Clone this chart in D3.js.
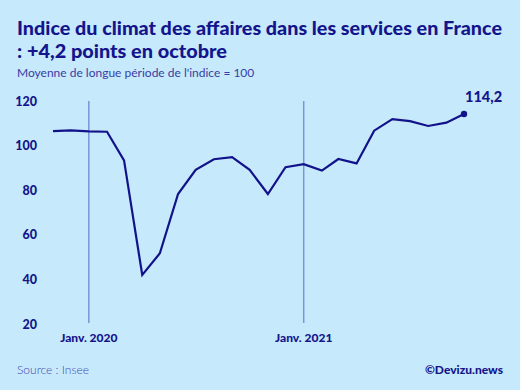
<!DOCTYPE html>
<html>
<head>
<meta charset="utf-8">
<script src="https://cdn.jsdelivr.net/npm/d3@7"></script>
<style>
  body { margin: 0; background: #c6eafb; }
  svg { display: block; font-family: Lato, "Noto Sans", sans-serif; }
</style>
</head>
<body>
<div id="chart"></div>
<script>
// data: Nov 2019 -> Oct 2021
const months = ["2019-11","2019-12","2020-01","2020-02","2020-03","2020-04","2020-05","2020-06",
  "2020-07","2020-08","2020-09","2020-10","2020-11","2020-12","2021-01","2021-02","2021-03",
  "2021-04","2021-05","2021-06","2021-07","2021-08","2021-09","2021-10"];
const values = [106.5, 106.8, 106.4, 106.2, 93.4, 42.0, 51.7, 78.3, 89.1, 93.9, 94.8, 89.1,
  78.3, 90.3, 91.7, 88.8, 94.0, 92.0, 106.7, 111.9, 111.0, 108.8, 110.3, 114.2];
const yTicks = [20, 40, 60, 80, 100, 120];
const xMarks = ["2020-01", "2021-01"];
const xMarkLabels = ["Janv. 2020", "Janv. 2021"];
const lastLabel = "114,2";

const W = 520, H = 390;
const parse = d3.timeParse("%Y-%m");
const data = months.map((m, i) => ({ date: parse(m), value: values[i] }));

const svg = d3.select("#chart").append("svg")
  .attr("width", W).attr("height", H);

svg.append("rect").attr("width", W).attr("height", H).attr("fill", "#c6eafb");

// title
const title = svg.append("text")
  .attr("fill", "#14148c")
  .style("font-weight", 900)
  .style("font-size", "19.5px");
title.append("tspan").attr("x", 17).attr("y", 35)
  .attr("textLength", 485).attr("lengthAdjust", "spacingAndGlyphs")
  .text("Indice du climat des affaires dans les services en France");
title.append("tspan").attr("x", 17).attr("y", 58)
  .attr("textLength", 210).attr("lengthAdjust", "spacingAndGlyphs")
  .text(": +4,2 points en octobre");

svg.append("text")
  .attr("x", 17).attr("y", 77)
  .attr("fill", "#3b3ba6")
  .style("font-size", "12px")
  .text("Moyenne de longue période de l'indice = 100");

const x = d3.scaleTime()
  .domain([parse("2019-11"), parse("2021-10")])
  .range([53, 464]);

const y = d3.scaleLinear()
  .domain([20, 120])
  .range([324, 101]);

// y axis labels
const yAxis = d3.axisLeft(y).tickValues(yTicks).tickSize(0).tickPadding(0);
svg.append("g")
  .attr("transform", "translate(37,0)")
  .call(yAxis)
  .call(g => g.select(".domain").remove())
  .call(g => g.selectAll("text")
    .attr("fill", "#14148c")
    .style("font-family", "Lato, 'Noto Sans', sans-serif")
    .style("font-weight", 900)
    .style("font-size", "12.5px"));

// year markers
const marks = svg.append("g");
xMarks.forEach((m, i) => {
  const xp = x(parse(m));
  marks.append("line")
    .attr("x1", xp).attr("x2", xp)
    .attr("y1", y(120)).attr("y2", y(20) - 1)
    .attr("stroke", "#7a95da").attr("stroke-width", 1.5);
  marks.append("text")
    .attr("x", xp).attr("y", 342)
    .attr("text-anchor", "middle")
    .attr("fill", "#14148c")
    .style("font-weight", 900)
    .style("font-size", "12px")
    .text(xMarkLabels[i]);
});

// line
const line = d3.line()
  .x(d => x(d.date))
  .y(d => y(d.value));

svg.append("path")
  .datum(data)
  .attr("d", line)
  .attr("fill", "none")
  .attr("stroke", "#12128a")
  .attr("stroke-width", 2.2)
  .attr("stroke-linejoin", "miter");

const last = data[data.length - 1];
svg.append("circle")
  .attr("cx", x(last.date)).attr("cy", y(last.value))
  .attr("r", 3.2).attr("fill", "#12128a");

svg.append("text")
  .attr("x", x(last.date) + 1).attr("y", 102)
  .attr("fill", "#14148c")
  .style("font-weight", 900)
  .style("font-size", "14.5px")
  .text(lastLabel);

// footer
svg.append("text")
  .attr("x", 17).attr("y", 374)
  .attr("fill", "#4646b4")
  .style("font-size", "12px")
  .style("font-weight", 300)
  .text("Source : Insee");

svg.append("text")
  .attr("x", 503).attr("y", 374)
  .attr("text-anchor", "end")
  .attr("fill", "#14148c")
  .style("font-weight", 900)
  .style("font-size", "12px")
  .text("©Devizu.news");
</script>
</body>
</html>
